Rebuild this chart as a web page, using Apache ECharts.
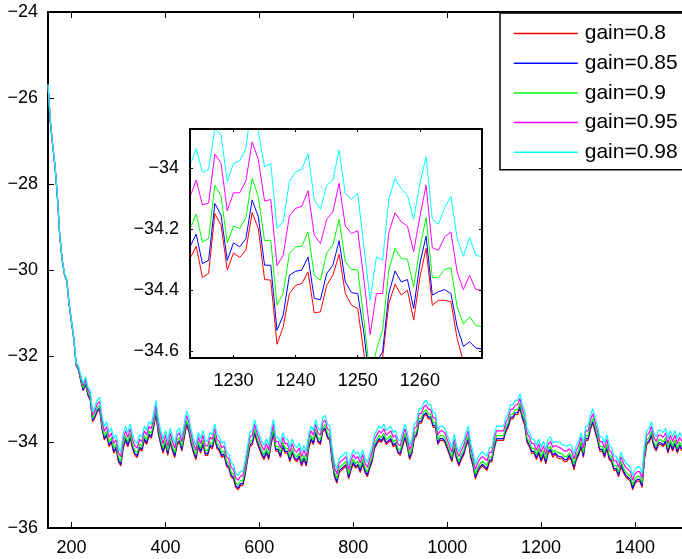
<!DOCTYPE html>
<html>
<head>
<meta charset="utf-8">
<script src="https://cdn.jsdelivr.net/npm/echarts@6/dist/echarts.min.js"></script>
<style>
  html, body { margin: 0; padding: 0; background: #fff; }
  #chart { width: 682px; height: 559px; }
</style>
</head>
<body>
<div id="chart"></div>
<script>
// series names and colours
var names = ['gain=0.8', 'gain=0.85', 'gain=0.9', 'gain=0.95', 'gain=0.98'];
var colors = ['#ff0000', '#0000ff', '#00ff00', '#ff00ff', '#00ffff'];

// main plot, one value every 5 iterations starting at 150
var mainStart = 150, mainStep = 5;
var main080 = [
  -25.71,-26.56,-27.11,-27.61,-28.31,-29.21,-29.76,-30.11,-30.26,-30.81,
  -31.21,-31.61,-32.22,-32.33,-32.59,-32.81,-32.66,-32.92,-33.02,-33.53,
  -33.43,-33.29,-33.24,-33.70,-33.95,-33.86,-34.11,-34.01,-34.26,-34.16,
  -34.46,-34.56,-34.16,-33.96,-34.11,-33.91,-34.16,-34.31,-34.36,-34.16,
  -34.21,-33.96,-34.06,-33.86,-33.91,-33.66,-33.36,-33.81,-34.06,-34.26,
  -34.06,-34.31,-34.01,-34.21,-34.36,-34.06,-34.01,-34.21,-33.91,-33.61,
  -33.76,-34.06,-34.26,-34.41,-34.11,-34.26,-34.06,-34.31,-34.31,-34.11,
  -34.16,-33.91,-34.16,-34.21,-34.36,-34.31,-34.56,-34.61,-34.81,-34.86,
  -35.06,-35.11,-35.01,-35.01,-34.76,-34.41,-34.11,-34.06,-33.81,-34.01,
  -34.16,-34.31,-34.41,-34.26,-34.41,-34.06,-33.81,-34.21,-34.21,-34.36,
  -34.11,-34.26,-34.26,-34.46,-34.26,-34.41,-34.46,-34.36,-34.56,-34.41,
  -34.56,-34.16,-33.96,-34.06,-33.81,-34.01,-34.06,-33.76,-33.71,-33.91,
  -33.96,-34.46,-34.81,-34.96,-34.71,-34.66,-34.61,-34.56,-34.86,-34.66,
  -34.51,-34.61,-34.56,-34.71,-34.51,-34.71,-34.81,-34.61,-34.46,-34.16,
  -34.06,-33.96,-34.01,-33.91,-34.06,-34.01,-33.96,-34.11,-34.06,-34.26,
  -34.31,-34.11,-33.91,-34.11,-34.41,-34.26,-33.91,-33.86,-33.56,-33.56,
  -33.41,-33.36,-33.46,-33.46,-33.66,-33.66,-34.06,-33.96,-33.96,-34.01,
  -34.16,-34.31,-34.46,-34.16,-34.41,-34.56,-34.41,-34.31,-34.11,-33.96,
  -34.36,-34.56,-34.86,-34.71,-34.61,-34.56,-34.61,-34.66,-34.46,-34.46,
  -34.16,-33.96,-33.96,-33.96,-33.96,-33.76,-33.66,-33.46,-33.46,-33.36,
  -33.36,-33.21,-33.46,-33.61,-34.01,-34.11,-34.26,-34.26,-34.41,-34.26,
  -34.46,-34.31,-34.51,-34.26,-34.21,-34.36,-34.28,-34.37,-34.39,-34.39,
  -34.46,-34.45,-34.36,-34.44,-34.65,-34.41,-34.31,-34.11,-34.36,-33.96,
  -33.96,-33.71,-33.56,-33.76,-33.96,-34.21,-34.21,-34.36,-34.16,-34.41,
  -34.46,-34.66,-34.66,-34.81,-34.56,-34.71,-34.81,-34.86,-34.91,-35.11,
  -34.96,-34.91,-34.91,-35.06,-34.41,-34.06,-34.01,-33.86,-34.11,-34.21,
  -34.06,-34.06,-34.11,-34.01,-34.26,-34.06,-34.21,-34.06,-34.26,-34.11,
  -34.21
];
var main085 = [
  -25.70,-26.55,-27.10,-27.60,-28.30,-29.20,-29.75,-30.10,-30.25,-30.80,
  -31.21,-31.61,-32.21,-32.32,-32.58,-32.79,-32.64,-32.89,-33.00,-33.50,
  -33.40,-33.26,-33.21,-33.66,-33.92,-33.82,-34.07,-33.97,-34.22,-34.12,
  -34.42,-34.52,-34.12,-33.92,-34.07,-33.87,-34.12,-34.27,-34.32,-34.12,
  -34.17,-33.92,-34.02,-33.82,-33.87,-33.62,-33.32,-33.77,-34.02,-34.22,
  -34.02,-34.27,-33.97,-34.17,-34.32,-34.02,-33.97,-34.17,-33.87,-33.57,
  -33.72,-34.02,-34.22,-34.37,-34.07,-34.22,-34.02,-34.27,-34.27,-34.07,
  -34.12,-33.87,-34.12,-34.17,-34.32,-34.27,-34.52,-34.57,-34.77,-34.82,
  -35.02,-35.07,-34.97,-34.97,-34.72,-34.37,-34.07,-34.02,-33.77,-33.97,
  -34.12,-34.27,-34.37,-34.22,-34.37,-34.02,-33.77,-34.17,-34.17,-34.32,
  -34.07,-34.22,-34.22,-34.42,-34.22,-34.37,-34.42,-34.32,-34.52,-34.37,
  -34.52,-34.12,-33.92,-34.02,-33.77,-33.97,-34.02,-33.72,-33.67,-33.87,
  -33.92,-34.42,-34.77,-34.92,-34.67,-34.62,-34.57,-34.52,-34.82,-34.62,
  -34.47,-34.57,-34.52,-34.67,-34.47,-34.67,-34.77,-34.57,-34.42,-34.12,
  -34.02,-33.92,-33.97,-33.87,-34.02,-33.97,-33.92,-34.07,-34.02,-34.22,
  -34.27,-34.07,-33.87,-34.07,-34.37,-34.22,-33.87,-33.82,-33.52,-33.52,
  -33.37,-33.32,-33.42,-33.42,-33.62,-33.62,-34.02,-33.92,-33.92,-33.97,
  -34.12,-34.27,-34.42,-34.12,-34.37,-34.52,-34.37,-34.27,-34.07,-33.92,
  -34.32,-34.52,-34.82,-34.67,-34.57,-34.52,-34.57,-34.62,-34.42,-34.42,
  -34.12,-33.92,-33.92,-33.92,-33.92,-33.72,-33.62,-33.42,-33.42,-33.32,
  -33.32,-33.17,-33.42,-33.57,-33.97,-34.07,-34.22,-34.22,-34.37,-34.22,
  -34.42,-34.27,-34.47,-34.22,-34.17,-34.31,-34.25,-34.32,-34.34,-34.35,
  -34.41,-34.41,-34.31,-34.41,-34.59,-34.37,-34.27,-34.07,-34.32,-33.92,
  -33.92,-33.67,-33.52,-33.72,-33.92,-34.17,-34.17,-34.32,-34.12,-34.37,
  -34.42,-34.62,-34.62,-34.77,-34.52,-34.67,-34.77,-34.82,-34.87,-35.07,
  -34.92,-34.87,-34.87,-35.02,-34.37,-34.02,-33.97,-33.82,-34.07,-34.17,
  -34.02,-34.02,-34.07,-33.97,-34.22,-34.02,-34.17,-34.02,-34.22,-34.07,
  -34.17
];
var main090 = [
  -25.70,-26.55,-27.10,-27.60,-28.30,-29.20,-29.75,-30.10,-30.25,-30.80,
  -31.20,-31.60,-32.20,-32.30,-32.55,-32.75,-32.60,-32.85,-32.95,-33.45,
  -33.35,-33.20,-33.15,-33.60,-33.85,-33.75,-34.00,-33.90,-34.15,-34.05,
  -34.35,-34.45,-34.05,-33.85,-34.00,-33.80,-34.05,-34.20,-34.25,-34.05,
  -34.10,-33.85,-33.95,-33.75,-33.80,-33.55,-33.25,-33.70,-33.95,-34.15,
  -33.95,-34.20,-33.90,-34.10,-34.25,-33.95,-33.90,-34.10,-33.80,-33.50,
  -33.65,-33.95,-34.15,-34.30,-34.00,-34.15,-33.95,-34.20,-34.20,-34.00,
  -34.05,-33.80,-34.05,-34.10,-34.25,-34.20,-34.45,-34.50,-34.70,-34.75,
  -34.95,-35.00,-34.90,-34.90,-34.65,-34.30,-34.00,-33.95,-33.70,-33.90,
  -34.05,-34.20,-34.30,-34.15,-34.30,-33.95,-33.70,-34.10,-34.10,-34.25,
  -34.00,-34.15,-34.15,-34.35,-34.15,-34.30,-34.35,-34.25,-34.45,-34.30,
  -34.45,-34.05,-33.85,-33.95,-33.70,-33.90,-33.95,-33.65,-33.60,-33.80,
  -33.85,-34.35,-34.70,-34.85,-34.60,-34.55,-34.50,-34.45,-34.75,-34.55,
  -34.40,-34.50,-34.45,-34.60,-34.40,-34.60,-34.70,-34.50,-34.35,-34.05,
  -33.95,-33.85,-33.90,-33.80,-33.95,-33.90,-33.85,-34.00,-33.95,-34.15,
  -34.20,-34.00,-33.80,-34.00,-34.30,-34.15,-33.80,-33.75,-33.45,-33.45,
  -33.30,-33.25,-33.35,-33.35,-33.55,-33.55,-33.95,-33.85,-33.85,-33.90,
  -34.05,-34.20,-34.35,-34.05,-34.30,-34.45,-34.30,-34.20,-34.00,-33.85,
  -34.25,-34.45,-34.75,-34.60,-34.50,-34.45,-34.50,-34.55,-34.35,-34.35,
  -34.05,-33.85,-33.85,-33.85,-33.85,-33.65,-33.55,-33.35,-33.35,-33.25,
  -33.25,-33.10,-33.35,-33.50,-33.90,-34.00,-34.15,-34.15,-34.30,-34.15,
  -34.35,-34.20,-34.40,-34.15,-34.10,-34.24,-34.19,-34.24,-34.26,-34.28,
  -34.34,-34.34,-34.26,-34.33,-34.52,-34.30,-34.20,-34.00,-34.25,-33.85,
  -33.85,-33.60,-33.45,-33.65,-33.85,-34.10,-34.10,-34.25,-34.05,-34.30,
  -34.35,-34.55,-34.55,-34.70,-34.45,-34.60,-34.70,-34.75,-34.80,-35.00,
  -34.85,-34.80,-34.80,-34.95,-34.30,-33.95,-33.90,-33.75,-34.00,-34.10,
  -33.95,-33.95,-34.00,-33.90,-34.15,-33.95,-34.10,-33.95,-34.15,-34.00,
  -34.10
];
var main095 = [
  -25.69,-26.54,-27.09,-27.59,-28.29,-29.19,-29.74,-30.09,-30.24,-30.79,
  -31.19,-31.59,-32.18,-32.27,-32.51,-32.69,-32.54,-32.78,-32.88,-33.37,
  -33.27,-33.11,-33.06,-33.50,-33.75,-33.64,-33.89,-33.79,-34.04,-33.94,
  -34.24,-34.34,-33.94,-33.74,-33.89,-33.69,-33.94,-34.09,-34.14,-33.94,
  -33.99,-33.74,-33.84,-33.64,-33.69,-33.44,-33.14,-33.59,-33.84,-34.04,
  -33.84,-34.09,-33.79,-33.99,-34.14,-33.84,-33.79,-33.99,-33.69,-33.39,
  -33.54,-33.84,-34.04,-34.19,-33.89,-34.04,-33.84,-34.09,-34.09,-33.89,
  -33.94,-33.69,-33.94,-33.99,-34.14,-34.09,-34.34,-34.39,-34.59,-34.64,
  -34.84,-34.89,-34.79,-34.79,-34.54,-34.19,-33.89,-33.84,-33.59,-33.79,
  -33.94,-34.09,-34.19,-34.04,-34.19,-33.84,-33.59,-33.99,-33.99,-34.14,
  -33.89,-34.04,-34.04,-34.24,-34.04,-34.19,-34.24,-34.14,-34.34,-34.19,
  -34.34,-33.94,-33.74,-33.84,-33.59,-33.79,-33.84,-33.54,-33.49,-33.69,
  -33.74,-34.24,-34.59,-34.74,-34.49,-34.44,-34.39,-34.34,-34.64,-34.44,
  -34.29,-34.39,-34.34,-34.49,-34.29,-34.49,-34.59,-34.39,-34.24,-33.94,
  -33.84,-33.74,-33.79,-33.69,-33.84,-33.79,-33.74,-33.89,-33.84,-34.04,
  -34.09,-33.89,-33.69,-33.89,-34.19,-34.04,-33.69,-33.64,-33.34,-33.34,
  -33.19,-33.14,-33.24,-33.24,-33.44,-33.44,-33.84,-33.74,-33.74,-33.79,
  -33.94,-34.09,-34.24,-33.94,-34.19,-34.34,-34.19,-34.09,-33.89,-33.74,
  -34.14,-34.34,-34.64,-34.49,-34.39,-34.34,-34.39,-34.44,-34.24,-34.24,
  -33.94,-33.74,-33.74,-33.74,-33.74,-33.54,-33.44,-33.24,-33.24,-33.14,
  -33.14,-32.99,-33.24,-33.39,-33.79,-33.89,-34.04,-34.04,-34.19,-34.04,
  -34.24,-34.09,-34.29,-34.04,-33.99,-34.12,-34.08,-34.11,-34.13,-34.17,
  -34.21,-34.21,-34.16,-34.21,-34.40,-34.19,-34.09,-33.89,-34.14,-33.74,
  -33.74,-33.49,-33.34,-33.54,-33.74,-33.99,-33.99,-34.14,-33.94,-34.19,
  -34.24,-34.44,-34.44,-34.59,-34.34,-34.49,-34.59,-34.64,-34.69,-34.89,
  -34.74,-34.69,-34.69,-34.84,-34.19,-33.84,-33.79,-33.64,-33.89,-33.99,
  -33.84,-33.84,-33.89,-33.79,-34.04,-33.84,-33.99,-33.84,-34.04,-33.89,
  -33.99
];
var main098 = [
  -25.68,-26.53,-27.08,-27.58,-28.28,-29.18,-29.73,-30.08,-30.23,-30.78,
  -31.18,-31.58,-32.16,-32.23,-32.46,-32.64,-32.48,-32.72,-32.81,-33.30,
  -33.18,-33.02,-32.96,-33.40,-33.64,-33.53,-33.78,-33.68,-33.93,-33.83,
  -34.13,-34.23,-33.83,-33.63,-33.78,-33.58,-33.83,-33.98,-34.03,-33.83,
  -33.88,-33.63,-33.73,-33.53,-33.58,-33.33,-33.03,-33.48,-33.73,-33.93,
  -33.73,-33.98,-33.68,-33.88,-34.03,-33.73,-33.68,-33.88,-33.58,-33.28,
  -33.43,-33.73,-33.93,-34.08,-33.78,-33.93,-33.73,-33.98,-33.98,-33.78,
  -33.83,-33.58,-33.83,-33.88,-34.03,-33.98,-34.23,-34.28,-34.48,-34.53,
  -34.73,-34.78,-34.68,-34.68,-34.43,-34.08,-33.78,-33.73,-33.48,-33.68,
  -33.83,-33.98,-34.08,-33.93,-34.08,-33.73,-33.48,-33.88,-33.88,-34.03,
  -33.78,-33.93,-33.93,-34.13,-33.93,-34.08,-34.13,-34.03,-34.23,-34.08,
  -34.23,-33.83,-33.63,-33.73,-33.48,-33.68,-33.73,-33.43,-33.38,-33.58,
  -33.63,-34.13,-34.48,-34.63,-34.38,-34.33,-34.28,-34.23,-34.53,-34.33,
  -34.18,-34.28,-34.23,-34.38,-34.18,-34.38,-34.48,-34.28,-34.13,-33.83,
  -33.73,-33.63,-33.68,-33.58,-33.73,-33.68,-33.63,-33.78,-33.73,-33.93,
  -33.98,-33.78,-33.58,-33.78,-34.08,-33.93,-33.58,-33.53,-33.23,-33.23,
  -33.08,-33.03,-33.13,-33.13,-33.33,-33.33,-33.73,-33.63,-33.63,-33.68,
  -33.83,-33.98,-34.13,-33.83,-34.08,-34.23,-34.08,-33.98,-33.78,-33.63,
  -34.03,-34.23,-34.53,-34.38,-34.28,-34.23,-34.28,-34.33,-34.13,-34.13,
  -33.83,-33.63,-33.63,-33.63,-33.63,-33.43,-33.33,-33.13,-33.13,-33.03,
  -33.03,-32.88,-33.13,-33.28,-33.68,-33.78,-33.93,-33.93,-34.08,-33.93,
  -34.13,-33.98,-34.18,-33.93,-33.88,-34.02,-33.99,-34.00,-34.01,-34.06,
  -34.08,-34.10,-34.05,-34.09,-34.29,-34.08,-33.98,-33.78,-34.03,-33.63,
  -33.63,-33.38,-33.23,-33.43,-33.63,-33.88,-33.88,-34.03,-33.83,-34.08,
  -34.13,-34.33,-34.33,-34.48,-34.23,-34.38,-34.48,-34.53,-34.58,-34.78,
  -34.63,-34.58,-34.58,-34.73,-34.08,-33.73,-33.68,-33.53,-33.78,-33.88,
  -33.73,-33.73,-33.78,-33.68,-33.93,-33.73,-33.88,-33.73,-33.93,-33.78,
  -33.88
];

// inset, one value per iteration from 1223 to 1270
var insetStart = 1223;
var inset080 = [
  -34.297,-34.257,-34.359,-34.346,-34.150,-34.188,-34.335,-34.279,-34.294,-34.270,
  -34.147,-34.199,-34.366,-34.368,-34.578,-34.521,-34.412,-34.385,-34.379,-34.341,
  -34.475,-34.472,-34.385,-34.352,-34.283,-34.412,-34.450,-34.461,-34.609,-34.773,
  -34.707,-34.622,-34.445,-34.381,-34.417,-34.401,-34.499,-34.359,-34.264,-34.450,
  -34.434,-34.434,-34.439,-34.559,-34.636,-34.652,-34.658,-34.652
];
var inset085 = [
  -34.259,-34.217,-34.314,-34.303,-34.117,-34.155,-34.303,-34.246,-34.259,-34.232,
  -34.106,-34.160,-34.319,-34.319,-34.532,-34.483,-34.352,-34.339,-34.335,-34.292,
  -34.428,-34.432,-34.346,-34.319,-34.239,-34.374,-34.409,-34.412,-34.543,-34.718,
  -34.636,-34.603,-34.412,-34.338,-34.374,-34.366,-34.461,-34.314,-34.224,-34.417,
  -34.406,-34.399,-34.412,-34.521,-34.585,-34.570,-34.590,-34.594
];
var inset090 = [
  -34.199,-34.152,-34.243,-34.232,-34.057,-34.093,-34.246,-34.191,-34.199,-34.163,
  -34.035,-34.095,-34.239,-34.237,-34.450,-34.410,-34.281,-34.259,-34.257,-34.210,
  -34.352,-34.368,-34.279,-34.253,-34.169,-34.308,-34.333,-34.335,-34.499,-34.685,
  -34.598,-34.532,-34.335,-34.264,-34.297,-34.300,-34.390,-34.264,-34.163,-34.359,
  -34.359,-34.333,-34.328,-34.456,-34.512,-34.488,-34.516,-34.521
];
var inset095 = [
  -34.095,-34.040,-34.122,-34.115,-33.955,-33.986,-34.141,-34.082,-34.082,-34.043,
  -33.915,-33.973,-34.109,-34.104,-34.321,-34.286,-34.158,-34.133,-34.126,-34.075,
  -34.221,-34.248,-34.169,-34.144,-34.051,-34.191,-34.215,-34.206,-34.368,-34.546,
  -34.412,-34.412,-34.213,-34.147,-34.177,-34.191,-34.275,-34.160,-34.057,-34.262,
  -34.270,-34.226,-34.210,-34.341,-34.399,-34.352,-34.399,-34.401
];
var inset098 = [
  -33.991,-33.937,-34.015,-34.005,-33.871,-33.893,-34.046,-33.986,-33.977,-33.937,
  -33.768,-33.882,-33.997,-33.986,-34.199,-34.177,-34.046,-34.013,-34.005,-33.953,
  -34.104,-34.136,-34.057,-34.040,-33.942,-34.084,-34.103,-34.084,-34.259,-34.434,
  -34.292,-34.303,-34.103,-34.035,-34.068,-34.090,-34.169,-34.051,-33.964,-34.169,
  -34.185,-34.130,-34.093,-34.232,-34.290,-34.228,-34.286,-34.292
];

// tick labels
var mainXTicks = [200, 400, 600, 800, 1000, 1200, 1400];
var insetXTicks = [1230, 1240, 1250, 1260];
var insetYTicks = [-34.6, -34.4, -34.2, -34];

var mainData = [main080, main085, main090, main095, main098];
var insetData = [inset080, inset085, inset090, inset095, inset098];

var font = '"Liberation Sans", Arial, Helvetica, sans-serif';
var plain = function (v) { return String(v).replace('-', '\u2212'); };

function pairs(arr, start, step) {
  return arr.map(function (v, i) { return [start + i * step, v]; });
}

var chart = echarts.init(document.getElementById('chart'), null, { renderer: 'canvas' });

var axisLine = { show: true, lineStyle: { color: '#000', width: 2 } };
var label = { color: '#000', fontFamily: font, fontSize: 18, formatter: plain };

// empty placeholder so the real series never sit at index 0
var series = [{ type: 'line', name: 'placeholder', data: [], silent: true, xAxisIndex: 0, yAxisIndex: 0 }];
mainData.forEach(function (arr, i) {
  series.push({
    name: names[i],
    type: 'line',
    xAxisIndex: 0,
    yAxisIndex: 0,
    data: pairs(arr, mainStart, mainStep),
    symbol: 'none',
    color: colors[i],
    lineStyle: { color: colors[i], width: 1.2 },
    emphasis: { disabled: true },
    z: 2
  });
});
insetData.forEach(function (arr, i) {
  series.push({
    name: names[i],
    type: 'line',
    xAxisIndex: 2,
    yAxisIndex: 1,
    data: pairs(arr, insetStart, 1),
    symbol: 'none',
    color: colors[i],
    lineStyle: { color: colors[i], width: 1 },
    emphasis: { disabled: true },
    z: 6
  });
});

var option = {
  animation: false,
  backgroundColor: '#fff',
  grid: [
    { left: 48, top: 12, width: 639, height: 516 },
    {
      left: 190, top: 129, width: 292, height: 229,
      show: true, backgroundColor: '#fff', borderWidth: 0, z: 5
    }
  ],
  legend: {
    data: names,
    orient: 'vertical',
    left: 500,
    top: 13,
    padding: [10, 30, 7, 13],
    itemWidth: 64,
    itemHeight: 14,
    itemGap: 8.7,
    itemStyle: { opacity: 0 },
    lineStyle: { width: 1.5 },
    backgroundColor: '#fff',
    borderColor: '#000',
    borderWidth: 1.5,
    borderRadius: 0,
    selectedMode: false,
    textStyle: { color: '#000', fontFamily: font, fontSize: 21, padding: [0, 0, 0, 2] },
    z: 8
  },
  xAxis: [
    {
      type: 'value', gridIndex: 0, min: 150, max: 1500,
      axisLine: axisLine,
      axisTick: { inside: true, length: 6, customValues: mainXTicks, lineStyle: { color: '#000' } },
      axisLabel: Object.assign({ margin: 11, customValues: mainXTicks }, label),
      splitLine: { show: false }
    },
    {
      type: 'value', gridIndex: 0, position: 'top', min: 150, max: 1500,
      axisLine: axisLine,
      axisTick: { inside: true, length: 6, customValues: mainXTicks, lineStyle: { color: '#000' } },
      axisLabel: { show: false },
      splitLine: { show: false }
    },
    {
      type: 'value', gridIndex: 1, min: 1223, max: 1270, z: 7,
      axisLine: axisLine,
      axisTick: { inside: true, length: 3, customValues: insetXTicks, lineStyle: { color: '#000' } },
      axisLabel: Object.assign({ margin: 14, customValues: insetXTicks }, label),
      splitLine: { show: false }
    },
    {
      type: 'value', gridIndex: 1, position: 'top', min: 1223, max: 1270, z: 7,
      axisLine: axisLine,
      axisTick: { inside: true, length: 3, customValues: insetXTicks, lineStyle: { color: '#000' } },
      axisLabel: { show: false },
      splitLine: { show: false }
    }
  ],
  yAxis: [
    {
      type: 'value', gridIndex: 0, min: -36, max: -24, interval: 2,
      axisLine: axisLine,
      axisTick: { inside: true, length: 6, lineStyle: { color: '#000' } },
      axisLabel: Object.assign({ margin: 10 }, label),
      splitLine: { show: false }
    },
    {
      type: 'value', gridIndex: 1, min: -34.623, max: -33.873, z: 7,
      axisLine: axisLine,
      axisTick: { inside: true, length: 3, customValues: insetYTicks, lineStyle: { color: '#000' } },
      axisLabel: Object.assign({ margin: 11, customValues: insetYTicks }, label),
      splitLine: { show: false }
    },
    {
      type: 'value', gridIndex: 1, position: 'right', min: -34.623, max: -33.873, z: 7,
      axisLine: axisLine,
      axisTick: { inside: true, length: 3, customValues: insetYTicks, lineStyle: { color: '#000' } },
      axisLabel: { show: false },
      splitLine: { show: false }
    }
  ],
  series: series
};

chart.setOption(option);
</script>
</body>
</html>
